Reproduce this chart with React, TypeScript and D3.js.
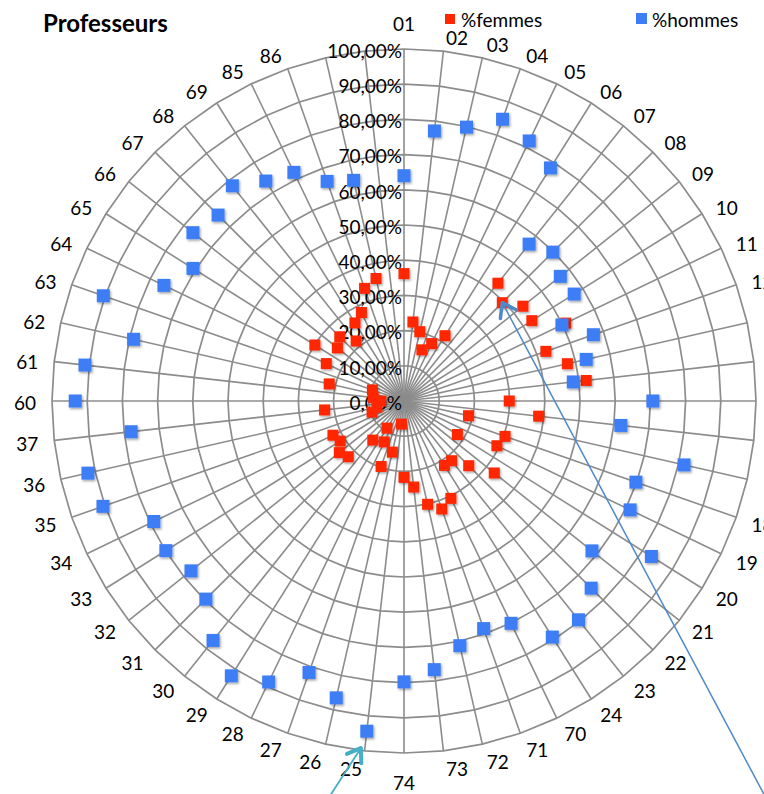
import React from "react";
import * as d3 from "d3";

// ---- data ----
const categories: string[] = [
  "01", "02", "03", "04", "05", "06", "07", "08", "09", "10",
  "11", "12", "13", "14", "15", "16", "17", "18", "19", "20",
  "21", "22", "23", "24", "70", "71", "72", "73", "74", "25",
  "26", "27", "28", "29", "30", "31", "32", "33", "34", "35",
  "36", "37", "60", "61", "62", "63", "64", "65", "66", "67",
  "68", "69", "85", "86", "", "",
];

const femmes: (number | null)[] = [
  36.2, 22.6, 20.2, 15.4, 18.1, 21.9, 42.8, 39.5, 43.2, 42.9,
  51.0, 42.7, 47.6, 52.1, 29.9, 38.5, 18.8, 30.4, 29.3, 17.9,
  32.8, 26.0, 21.7, 21.6, 30.7, 32.5, 30.1, 24.6, 21.7, 6.6,
  14.9, 19.7, 12.9, 9.1, 14.2, 22.4, 23.5, 21.4, 22.4, 9.6,
  7.9, 22.7, 6.6, 8.8, 21.8, 9.5, 24.5, 29.9, 24.2, 25.8,
  21.8, 26.2, 27.9, 33.9, 35.7, null,
];

const hommes: (number | null)[] = [
  64.0, 77.2, 79.8, 84.8, 82.0, 78.2, 57.0, 59.8, 56.8, 57.1,
  49.8, 57.0, 53.1, 48.4, 70.7, 62.0, 81.6, 69.8, 71.3, 83.0,
  68.3, 75.2, 79.5, 79.2, 70.1, 68.5, 71.3, 76.8, 79.8, 94.4,
  86.5, 81.7, 88.6, 92.2, 87.0, 79.6, 77.4, 79.9, 78.9, 90.6,
  92.1, 78.0, 93.4, 91.2, 78.8, 90.5, 75.7, 70.8, 76.7, 74.7,
  78.2, 73.8, 72.1, 66.1, 64.3, null,
];

const gridTicks: number[] = [0, 10, 20, 30, 40, 50, 60, 70, 80, 90, 100];
const tickLabels: string[] = [
  "0,00%", "10,00%", "20,00%", "30,00%", "40,00%", "50,00%",
  "60,00%", "70,00%", "80,00%", "90,00%", "100,00%",
];
const seriesNames: string[] = ["%femmes", "%hommes"];
const title = "Professeurs";

// ---- layout / style ----
const W = 764;
const H = 794;
const CX = 404;
const CY = 401;
const R = 352;
const FONT = "Lato, 'Open Sans', 'DejaVu Sans', sans-serif";
const FS = 19;
const GRID = "#8c8c8c";
const RED = "#ff2600";
const BLUE = "#3d7ef6";
const LINE_BLUE = "#4f89c7";
const CYAN = "#45aec8";

export default function App() {
  const n = categories.length;
  const r = d3.scaleLinear().domain([0, 100]).range([0, R]);
  const a = d3.scaleLinear().domain([0, n]).range([0, 2 * Math.PI]);
  const idx = d3.range(n);

  const ring = (t: number) =>
    d3
      .lineRadial<number>()
      .angle((i) => a(i))
      .radius(() => r(t))
      .curve(d3.curveLinearClosed)(idx) as string;

  const pt = (i: number, v: number) => d3.pointRadial(a(i), r(v));

  // category label placement
  const catLabel = (i: number) => {
    const ang = a(i);
    const s = Math.sin(ang);
    const c = Math.cos(ang);
    const rx = R * s;
    const ry = -R * c;
    if (Math.abs(s) < 0.01) {
      return { x: rx, y: ry + (c > 0 ? -25 : 30), anchor: "middle" };
    }
    return {
      x: rx + (15 * Math.abs(s) + 1) * Math.sign(s),
      y: ry + 2.5 - 15.5 * c,
      anchor: s > 0 ? "start" : "end",
    };
  };

  // annotation arrows anchored to data points
  const tipBlue = pt(7, femmes[7] as number);
  const tipB: [number, number] = [CX + tipBlue[0], CY + tipBlue[1]];
  const endB: [number, number] = [767, 800];
  const p25 = pt(29, hommes[29] as number);
  const tipC: [number, number] = [CX + p25[0] - 6, CY + p25[1] + 17];
  const endC: [number, number] = [326, 802];

  const barbs = (tip: [number, number], end: [number, number], len: number) => {
    const dx = end[0] - tip[0];
    const dy = end[1] - tip[1];
    const L = Math.hypot(dx, dy);
    const ux = dx / L;
    const uy = dy / L;
    const ang = (35 * Math.PI) / 180;
    const ca = Math.cos(ang);
    const sa = Math.sin(ang);
    const b1 = [tip[0] + len * (ux * ca - uy * sa), tip[1] + len * (ux * sa + uy * ca)];
    const b2 = [tip[0] + len * (ux * ca + uy * sa), tip[1] + len * (-ux * sa + uy * ca)];
    return [b1, b2];
  };
  const bB = barbs(tipB, endB, 16);
  const bC = barbs(tipC, endC, 15);

  return (
    <svg
      width={W}
      height={H}
      viewBox={`0 0 ${W} ${H}`}
      style={{ position: "absolute", left: 0, top: 0, background: "#fff" }}
      fontFamily={FONT}
    >
      <defs>
        <filter id="sh" x="-60%" y="-60%" width="220%" height="220%">
          <feDropShadow dx="1.2" dy="1.6" stdDeviation="1" floodColor="#000" floodOpacity="0.35" />
        </filter>
      </defs>
      <rect width={W} height={H} fill="#fff" />

      <g transform={`translate(${CX},${CY})`}>
        {/* rings */}
        {gridTicks.slice(1).map((t) => (
          <path key={`ring${t}`} d={ring(t)} fill="none" stroke={GRID} strokeWidth={1.7} />
        ))}
        {/* spokes */}
        {idx.map((i) => {
          const [x, y] = pt(i, 100);
          return <line key={`sp${i}`} x1={0} y1={0} x2={x} y2={y} stroke={GRID} strokeWidth={1.6} />;
        })}
        {/* category labels */}
        {idx.map((i) => {
          if (!categories[i]) return null;
          const l = catLabel(i);
          return (
            <text key={`cl${i}`} x={l.x} y={l.y} dy="0.36em" textAnchor={l.anchor as any} fontSize={FS} fill="#000">
              {categories[i]}
            </text>
          );
        })}
        {/* value axis labels */}
        {gridTicks.map((t, k) => (
          <text key={`tl${t}`} x={-2} y={-r(t) + 2} dy="0.36em" textAnchor="end" fontSize={FS} fill="#000">
            {tickLabels[k]}
          </text>
        ))}
        {/* femmes markers */}
        <g filter="url(#sh)">
          {femmes.map((v, i) => {
            if (v == null) return null;
            const [x, y] = pt(i, v);
            return <rect key={`f${i}`} x={x - 5.5} y={y - 5.5} width={11} height={11} fill={RED} />;
          })}
        </g>
        {/* hommes markers */}
        <g filter="url(#sh)">
          {hommes.map((v, i) => {
            if (v == null) return null;
            const [x, y] = pt(i, v);
            return <rect key={`h${i}`} x={x - 6.5} y={y - 6.5} width={13} height={13} fill={BLUE} />;
          })}
        </g>
      </g>

      {/* annotation arrows */}
      <line x1={tipB[0]} y1={tipB[1]} x2={endB[0]} y2={endB[1]} stroke={LINE_BLUE} strokeWidth={1.5} />
      {bB.map((b, k) => (
        <line key={`bb${k}`} x1={tipB[0]} y1={tipB[1]} x2={b[0]} y2={b[1]} stroke={LINE_BLUE} strokeWidth={3.5} strokeLinecap="round" />
      ))}
      <line x1={tipC[0]} y1={tipC[1]} x2={endC[0]} y2={endC[1]} stroke={CYAN} strokeWidth={1.8} />
      {bC.map((b, k) => (
        <line key={`bc${k}`} x1={tipC[0]} y1={tipC[1]} x2={b[0]} y2={b[1]} stroke={CYAN} strokeWidth={4} strokeLinecap="round" />
      ))}

      {/* title */}
      <text x={43} y={32} fontSize={24} fontWeight="bold" fill="#000">
        {title}
      </text>

      {/* legend */}
      <rect x={445} y={14} width={10} height={10} fill={RED} />
      <text x={461} y={27} fontSize={FS} fill="#000">
        {seriesNames[0]}
      </text>
      <rect x={636} y={13} width={11} height={11} fill={BLUE} />
      <text x={652} y={27} fontSize={FS} fill="#000">
        {seriesNames[1]}
      </text>
    </svg>
  );
}
